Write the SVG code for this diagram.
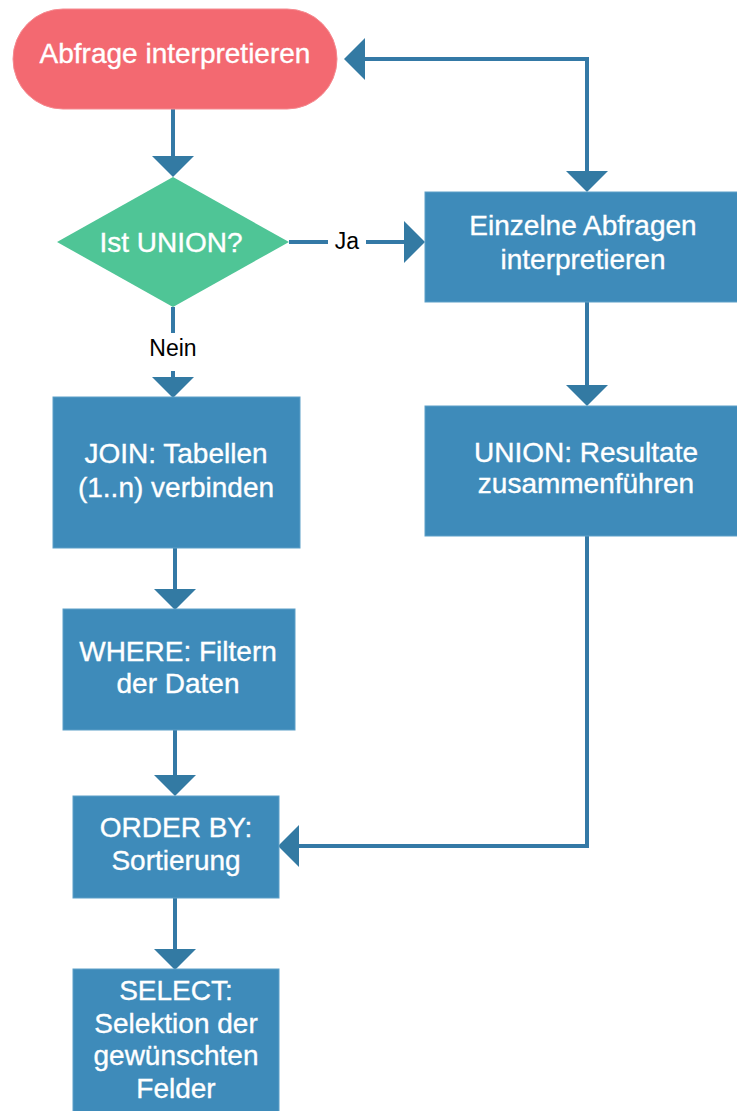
<svg xmlns="http://www.w3.org/2000/svg" width="737" height="1111" viewBox="0 0 737 1111">
  <style>
    .box { fill: #3E8BBA; stroke: #5C9FC8; stroke-width: 1; }
    .start { fill: #F36971; stroke: #F58A90; stroke-width: 1; }
    .decision { fill: #4FC596; }
    .t { font-family: "Liberation Sans", Arial, Helvetica, sans-serif; font-size: 28px; fill: #FFFFFF; stroke: #FFFFFF; stroke-width: 0.35; text-anchor: middle; }
    .lbl { font-family: "Liberation Sans", Arial, Helvetica, sans-serif; font-size: 23px; fill: #000000; text-anchor: middle; }
    .edge { fill: none; stroke: #3479A6; stroke-width: 4; }
  </style>
  <defs>
    <marker id="arrow" viewBox="0 0 21 42" refX="0" refY="21" markerWidth="21" markerHeight="42" markerUnits="userSpaceOnUse" orient="auto-start-reverse">
      <path d="M0,0 L21,21 L0,42 Z" fill="#337AA3"/>
    </marker>
  </defs>

  <rect width="737" height="1111" fill="#FFFFFF"/>

  <!-- connectors -->
  <g id="connectors">
    <path class="edge" d="M173,109 V156" marker-end="url(#arrow)"/>
    <path class="edge" d="M289,242 H328"/>
    <path class="edge" d="M366,242 H404" marker-end="url(#arrow)"/>
    <text class="lbl" x="347" y="249">Ja</text>
    <path class="edge" d="M173,307 V333"/>
    <path class="edge" d="M173,371 V377" marker-end="url(#arrow)"/>
    <text class="lbl" x="173" y="356">Nein</text>
    <path class="edge" d="M175,548 V589" marker-end="url(#arrow)"/>
    <path class="edge" d="M175,730 V775" marker-end="url(#arrow)"/>
    <path class="edge" d="M175,898 V949" marker-end="url(#arrow)"/>
    <path class="edge" d="M587,171 V59 H365" marker-start="url(#arrow)" marker-end="url(#arrow)"/>
    <path class="edge" d="M587,302 V385" marker-end="url(#arrow)"/>
    <path class="edge" d="M587,536 V846 H299" marker-end="url(#arrow)"/>
  </g>

  <g id="start">
    <rect class="start" x="13" y="9" width="324" height="100" rx="50" ry="50"/>
    <text class="t" x="175" y="63">Abfrage interpretieren</text>
  </g>

  <g id="is-union">
    <polygon class="decision" points="173,177 289,242 173,307 57,242"/>
    <text class="t" x="171" y="252">Ist UNION?</text>
  </g>

  <g id="join">
    <rect class="box" x="53" y="397" width="247" height="151"/>
    <text class="t" x="176" y="463">JOIN: Tabellen</text>
    <text class="t" x="176" y="497">(1..n) verbinden</text>
  </g>

  <g id="where">
    <rect class="box" x="63" y="609" width="232" height="121"/>
    <text class="t" x="178" y="661">WHERE: Filtern</text>
    <text class="t" x="178" y="693">der Daten</text>
  </g>

  <g id="order-by">
    <rect class="box" x="73" y="796" width="206" height="102"/>
    <text class="t" x="176" y="837">ORDER BY:</text>
    <text class="t" x="176" y="870">Sortierung</text>
  </g>

  <g id="select">
    <rect class="box" x="73" y="969" width="206" height="160"/>
    <text class="t" x="176" y="1000">SELECT:</text>
    <text class="t" x="176" y="1033">Selektion der</text>
    <text class="t" x="176" y="1065">gewünschten</text>
    <text class="t" x="176" y="1098">Felder</text>
  </g>

  <g id="single-queries">
    <rect class="box" x="425" y="192" width="330" height="110"/>
    <text class="t" x="583" y="235">Einzelne Abfragen</text>
    <text class="t" x="583" y="269">interpretieren</text>
  </g>

  <g id="union-merge">
    <rect class="box" x="425" y="406" width="330" height="130"/>
    <text class="t" x="586" y="462">UNION: Resultate</text>
    <text class="t" x="586" y="493">zusammenführen</text>
  </g>
</svg>
